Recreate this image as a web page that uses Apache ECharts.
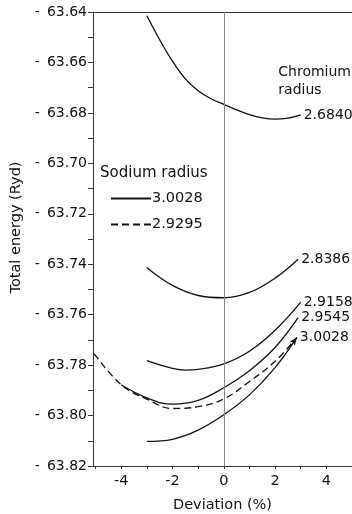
<!DOCTYPE html>
<html>
<head>
<meta charset="utf-8">
<script src="https://cdn.jsdelivr.net/npm/echarts@6/dist/echarts.min.js"></script>
<style>
  html, body { margin: 0; padding: 0; background: #fff; }
  #chart { width: 352px; height: 514px; }
</style>
</head>
<body>
<div id="chart"></div>
<script>
// Total energy versus lattice deviation for several chromium radii
const devTicks = [-4, -2, 0, 2, 4];
const devMinor = [-5, -4, -3, -2, -1, 0, 1, 2, 3, 4, 5];
const energyTicks = [-63.64, -63.66, -63.68, -63.70, -63.72, -63.74, -63.76, -63.78, -63.80, -63.82];
const energyMinor = [-63.64, -63.65, -63.66, -63.67, -63.68, -63.69, -63.70, -63.71, -63.72, -63.73,
                     -63.74, -63.75, -63.76, -63.77, -63.78, -63.79, -63.80, -63.81, -63.82];

// Sodium radius 3.0028 (solid curves), one per chromium radius
const cr26840Dev = [-3, -2.5, -2, -1.5, -1, -0.5, 0, 0.5, 1, 1.5, 2, 2.5, 3];
const cr26840E   = [-63.6415, -63.6510, -63.6595, -63.6665, -63.6712, -63.6744, -63.6766,
                    -63.6788, -63.6807, -63.6820, -63.6825, -63.6821, -63.6808];
const cr28386Dev = [-3, -2, -1, 0, 1, 2, 2.9];
const cr28386E   = [-63.7414, -63.7484, -63.7524, -63.7533, -63.7512, -63.7455, -63.7380];
const cr29158Dev = [-3, -2, -1.5, -1, 0, 1, 2, 3];
const cr29158E   = [-63.7782, -63.7813, -63.7820, -63.7817, -63.7795, -63.7745, -63.7662, -63.7550];
const cr29545Dev = [-4, -3, -2, -1, 0, 1, 2, 2.9];
const cr29545E   = [-63.7878, -63.7930, -63.7955, -63.7940, -63.7890, -63.7822, -63.7730, -63.7612];
const cr30028Dev = [-3, -2, -1, 0, 1, 2, 2.85];
const cr30028E   = [-63.8102, -63.8094, -63.8058, -63.7997, -63.7918, -63.7810, -63.7690];

// Sodium radius 2.9295 (dashed curve)
const na29295Dev = [-5.05, -4, -3, -2, -1, 0, 1, 2, 2.85];
const na29295E   = [-63.7755, -63.7878, -63.7935, -63.7972, -63.7965, -63.7934, -63.7865, -63.7785, -63.7690];

const sodiumRadii = ['3.0028', '2.9295'];
const chromiumRadii = ['2.6840', '2.8386', '2.9158', '2.9545', '3.0028'];

const FONT = 'DejaVu Sans';
const INK = '#111';

function pairs(xs, ys) { return xs.map((x, i) => [x, ys[i]]); }

function solid(xs, ys, crLabel, extra) {
  return Object.assign({
    name: sodiumRadii[0],
    type: 'line',
    data: pairs(xs, ys),
    smooth: 0.4,
    symbol: 'none',
    lineStyle: { color: INK, width: 1.3, type: 'solid' },
    itemStyle: { color: INK },
    endLabel: {
      show: true, formatter: crLabel, distance: 3,
      fontFamily: FONT, fontSize: 14, color: INK
    },
    emphasis: { disabled: true },
    z: 3
  }, extra || {});
}

// arrow head at the end of the lowest curve
const lowData = pairs(cr30028Dev, cr30028E);
const lastIdx = lowData.length - 1;
lowData[lastIdx] = { value: lowData[lastIdx], symbol: 'arrow', symbolSize: [5, 8], symbolRotate: -36 };

const series = [
  solid(cr26840Dev, cr26840E, chromiumRadii[0], {
    markLine: {
      silent: true, symbol: 'none', label: { show: false },
      lineStyle: { color: '#888', width: 1, type: 'solid' },
      data: [{ xAxis: 0 }]
    }
  }),
  solid(cr28386Dev, cr28386E, chromiumRadii[1]),
  solid(cr29158Dev, cr29158E, chromiumRadii[2]),
  solid(cr29545Dev, cr29545E, chromiumRadii[3]),
  Object.assign(solid(cr30028Dev, cr30028E, chromiumRadii[4]), {
    data: lowData, showSymbol: true, symbol: 'none', showAllSymbol: true
  }),
  {
    name: sodiumRadii[1],
    type: 'line',
    data: pairs(na29295Dev, na29295E),
    smooth: 0.4,
    symbol: 'none',
    lineStyle: { color: INK, width: 1.3, type: [7, 4] },
    itemStyle: { color: INK },
    emphasis: { disabled: true },
    z: 3
  }
];

const chart = echarts.init(document.getElementById('chart'), null, { renderer: 'canvas' });
chart.setOption({
  animation: false,
  backgroundColor: '#fff',
  grid: { left: 93, right: 0, top: 12, bottom: 48, containLabel: false, outerBoundsMode: 'none' },
  legend: {
    data: sodiumRadii,
    orient: 'vertical',
    left: 105, top: 186,
    itemWidth: 40, itemHeight: 14, itemGap: 11,
    itemStyle: { color: 'rgba(0,0,0,0)', borderColor: 'rgba(0,0,0,0)', borderWidth: 0, opacity: 0 },
    textStyle: { fontFamily: FONT, fontSize: 14.5, color: INK, padding: [0, 0, 0, -4] },
    selectedMode: false
  },
  graphic: [
    { type: 'text', left: 100, top: 166,
      style: { text: 'Sodium radius', font: '15px "' + FONT + '"', fill: INK } },
    { type: 'text', right: 1, top: 63,
      style: { text: 'Chromium\nradius', font: '14px "' + FONT + '"', fill: INK,
               align: 'right', lineHeight: 18 } }
  ],
  xAxis: [{
    type: 'value', min: -5.1, max: 5.0,
    name: 'Deviation (%)', nameLocation: 'middle', nameGap: 32,
    nameTextStyle: { fontFamily: FONT, fontSize: 14.5, color: INK },
    axisLine: { show: true, onZero: false, lineStyle: { color: '#333', width: 1 } },
    axisTick: { show: true, customValues: devMinor, length: 3, inside: false, lineStyle: { color: '#333' } },
    axisLabel: { customValues: devTicks, fontFamily: FONT, fontSize: 14.5, color: INK, margin: 8 },
    splitLine: { show: false }
  }, {
    type: 'value', min: -5.1, max: 5.0, position: 'top',
    axisLine: { show: true, onZero: false, lineStyle: { color: '#333', width: 1 } },
    axisTick: { show: false }, axisLabel: { show: false }, splitLine: { show: false }
  }],
  yAxis: {
    type: 'value', min: -63.82, max: -63.64,
    name: 'Total energy (Ryd)', nameLocation: 'middle', nameGap: 64,
    nameTextStyle: { fontFamily: FONT, fontSize: 14.5, color: INK, padding: [0, 0, 0, 23] },
    axisLine: { show: true, onZero: false, lineStyle: { color: '#333', width: 1 } },
    axisTick: { show: true, customValues: energyMinor, length: 5, lineStyle: { color: '#333' } },
    axisLabel: {
      customValues: energyTicks, fontFamily: FONT, fontSize: 14, color: INK, margin: 6,
      formatter: v => '-\u2002' + Math.abs(v).toFixed(2)
    },
    splitLine: { show: false }
  },
  series: series
});
</script>
</body>
</html>
